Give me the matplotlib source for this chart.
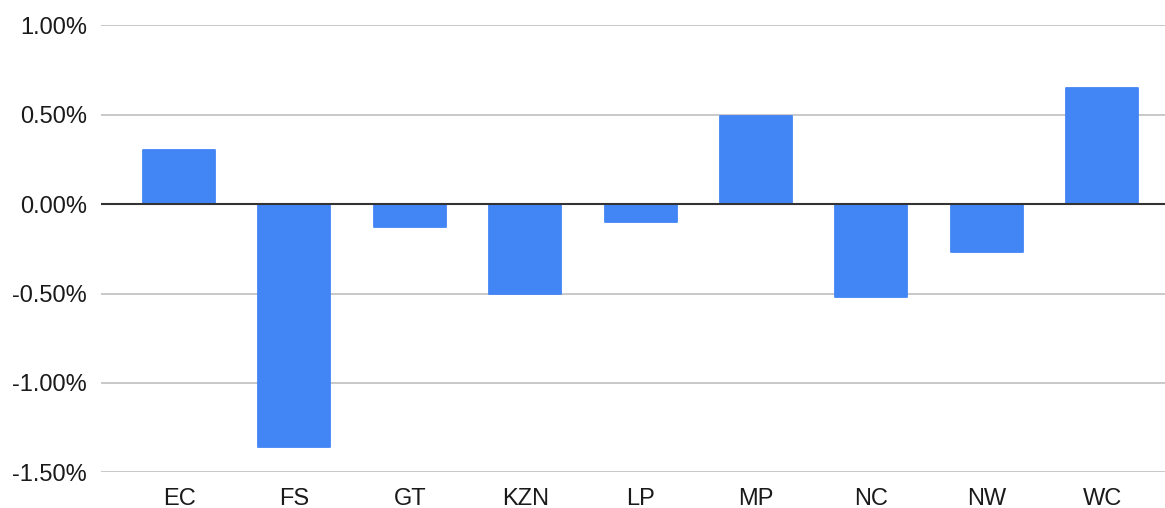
import matplotlib.pyplot as plt
from matplotlib.ticker import FuncFormatter

provinces = ["EC", "FS", "GT", "KZN", "LP", "MP", "NC", "NW", "WC"]
change_pct = [0.30, -1.36, -0.13, -0.50, -0.10, 0.49, -0.52, -0.27, 0.65]
y_ticks = [1.0, 0.5, 0.0, -0.5, -1.0, -1.5]

bar_color = "#4285f4"
plt.rcParams['font.family'] = ['Liberation Sans', 'DejaVu Sans']

fig = plt.figure(figsize=(11.65, 5.08), dpi=100)
ax = fig.add_axes([101 / 1165, (508 - 472.3) / 508, 1 - 101 / 1165, (472.3 - 25.3) / 508])

x = list(range(len(provinces)))
bars = ax.bar(x, change_pct, width=0.625, color=bar_color, zorder=2)

# soften the corners a bit like google sheets does
for b in bars:
    b.set_joinstyle("round")
    b.set_edgecolor(bar_color)
    b.set_linewidth(1.3)

# grid + zero line
ax.set_yticks(y_ticks)
ax.yaxis.grid(True, color="#c8c8c8", linewidth=1.4, zorder=0)
ax.axhline(0, color="#333333", linewidth=1.5, zorder=3)

ax.set_ylim(-1.5, 1.0)
ax.set_xlim(-0.676, 8.544)
ax.set_xticks(x)
ax.set_xticklabels(provinces)
ax.yaxis.set_major_formatter(FuncFormatter(lambda v, p: "{:.2f}%".format(v)))

for s in ax.spines.values():
    s.set_visible(False)
ax.tick_params(axis="both", length=0, labelsize=17, labelcolor="#1a1a1a")
ax.tick_params(axis="y", pad=10)
ax.tick_params(axis="x", pad=11.5)

fig.savefig("out.png", dpi=100)
